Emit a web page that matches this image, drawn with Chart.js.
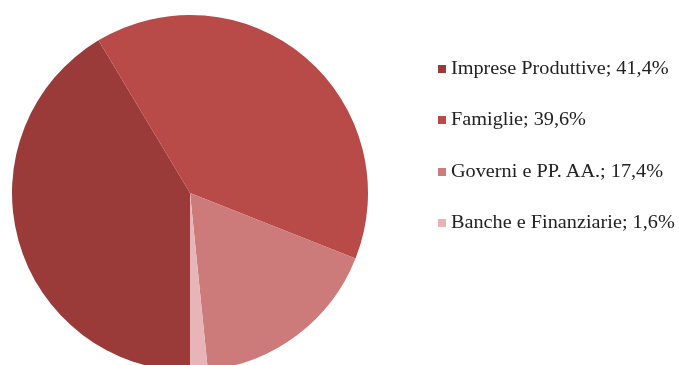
<!DOCTYPE html>
<html>
<head>
<meta charset="utf-8">
<script src="https://cdn.jsdelivr.net/npm/chart.js@4/dist/chart.umd.min.js"></script>
<style>
  html, body { margin: 0; padding: 0; width: 679px; height: 365px; overflow: hidden; background: #fff; }
  #wrap { position: relative; width: 679px; height: 365px; overflow: hidden; }
  canvas { position: absolute; left: 0; top: 0; }
  #legend { position: absolute; left: 0; top: 0; font-family: "Liberation Serif", "DejaVu Serif", serif; font-size: 18px; color: #222; }
  .txt { position: absolute; white-space: nowrap; height: 20px; line-height: 20px; transform: scaleX(1.125); transform-origin: 0 0; }
  .sw { position: absolute; width: 8px; height: 8px; }
</style>
</head>
<body>
<div id="wrap">
  <canvas id="c" width="679" height="380"></canvas>
  <div id="legend"></div>
</div>
<script>
// Settori e quote percentuali
const categories = ["Imprese Produttive", "Famiglie", "Governi e PP. AA.", "Banche e Finanziarie"];
const shares = [41.4, 39.6, 17.4, 1.6];
const sliceColors = ["#9a3b3a", "#b84a47", "#cc7a7a", "#e8b4b7"];

const chart = new Chart(document.getElementById("c"), {
  type: "pie",
  data: {
    labels: categories,
    datasets: [{
      data: shares,
      backgroundColor: sliceColors,
      borderWidth: 0
    }]
  },
  options: {
    responsive: false,
    animation: false,
    rotation: 180,
    layout: { padding: { left: 12, right: 311, top: 15, bottom: 9 } },
    plugins: {
      legend: { display: false },
      tooltip: { enabled: false }
    }
  }
});

// Legenda a destra della torta
const fmt = v => v.toFixed(1).replace(".", ",") + "%";
const legend = document.getElementById("legend");
const rowCenters = [68.5, 120, 171.5, 223];
chart.data.labels.forEach((lab, i) => {
  const sw = document.createElement("div");
  sw.className = "sw";
  sw.style.left = "438px";
  sw.style.top = (rowCenters[i] - 4) + "px";
  sw.style.background = sliceColors[i];
  legend.appendChild(sw);
  const t = document.createElement("div");
  t.className = "txt";
  t.style.left = "451px";
  t.style.top = (rowCenters[i] - 11) + "px";
  t.textContent = lab + "; " + fmt(chart.data.datasets[0].data[i]);
  legend.appendChild(t);
});
</script>
</body>
</html>
